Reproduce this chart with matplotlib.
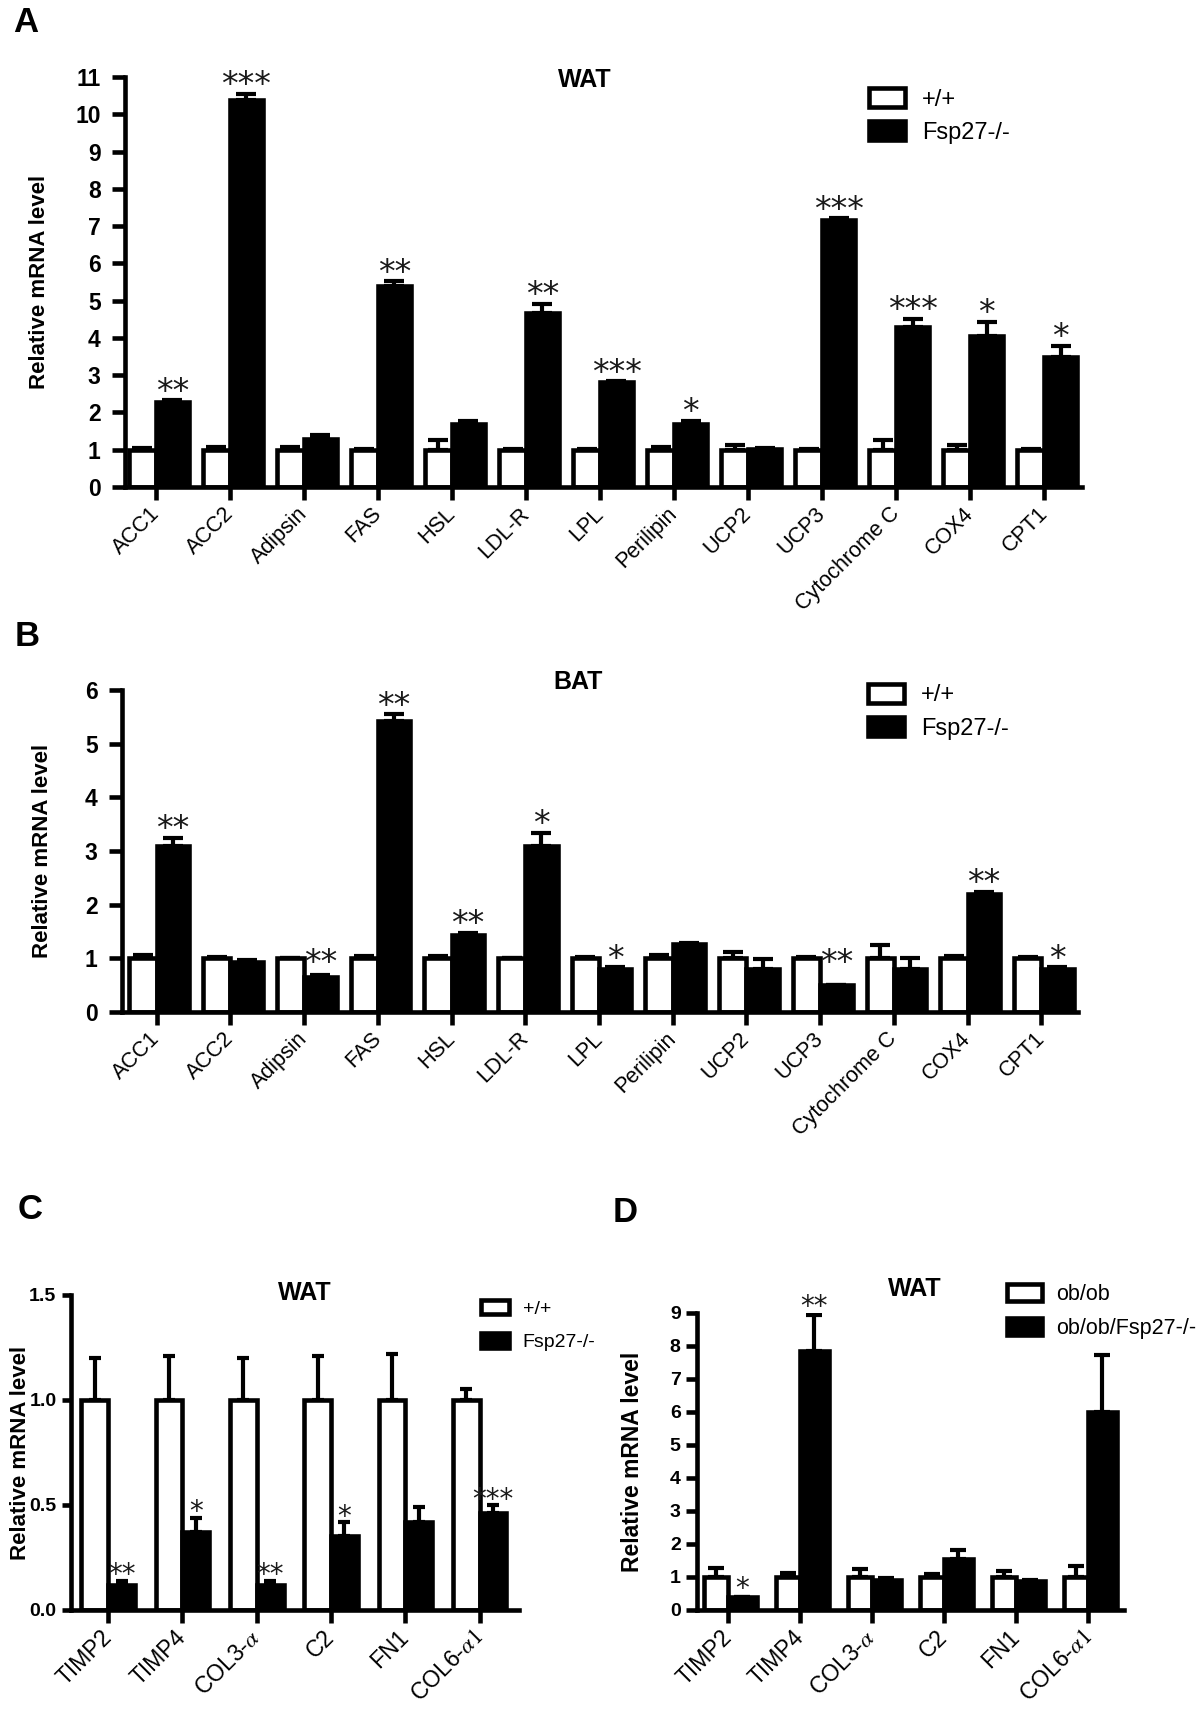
import numpy as np
import matplotlib
matplotlib.use("Agg")
import matplotlib.pyplot as plt
from matplotlib.patches import Patch

plt.rcParams['font.family'] = ['Liberation Sans', 'DejaVu Sans']
plt.rcParams['mathtext.fontset'] = 'stix'

NARROW = ['Liberation Sans Narrow', 'Liberation Sans', 'DejaVu Sans']

# --- data -------------------------------------------------------------
genes_ab = ["ACC1", "ACC2", "Adipsin", "FAS", "HSL", "LDL-R", "LPL",
            "Perilipin", "UCP2", "UCP3", "Cytochrome C", "COX4", "CPT1"]

# A : WAT, +/+ vs Fsp27-/-
wat_wt = [1.0, 1.0, 1.0, 1.0, 1.0, 1.0, 1.0, 1.0, 1.0, 1.0, 1.0, 1.0, 1.0]
wat_wt_err = [0.04, 0.06, 0.06, 0.02, 0.26, 0.01, 0.03, 0.06, 0.13, 0.02, 0.25, 0.14, 0.02]
wat_ko = [2.27, 10.37, 1.28, 5.39, 1.68, 4.68, 2.82, 1.70, 1.02, 7.16, 4.30, 4.06, 3.50]
wat_ko_err = [0.06, 0.17, 0.12, 0.13, 0.08, 0.23, 0.02, 0.08, 0.03, 0.05, 0.22, 0.37, 0.28]
wat_sig = ["**", "***", "", "**", "", "**", "***", "*", "", "***", "***", "*", "*"]

# B : BAT, +/+ vs Fsp27-/-
bat_wt = [1.0, 1.0, 1.0, 1.0, 1.0, 1.0, 1.0, 1.0, 1.0, 1.0, 1.0, 1.0, 1.0]
bat_wt_err = [0.06, 0.03, 0.0, 0.05, 0.05, 0.0, 0.03, 0.06, 0.12, 0.02, 0.25, 0.04, 0.02]
bat_ko = [3.10, 0.93, 0.66, 5.43, 1.44, 3.10, 0.81, 1.27, 0.80, 0.50, 0.80, 2.20, 0.81]
bat_ko_err = [0.14, 0.03, 0.02, 0.12, 0.04, 0.24, 0.02, 0.02, 0.18, 0.0, 0.21, 0.04, 0.02]
bat_sig = ["**", "", "**", "**", "**", "*", "*", "", "", "**", "", "**", "*"]

genes_cd = ["TIMP2", "TIMP4", r"COL3-$\alpha$", "C2", "FN1", r"COL6-$\alpha\mathit{1}$"]

# C : WAT, +/+ vs Fsp27-/-
ecm_wt = [1.0, 1.0, 1.0, 1.0, 1.0, 1.0]
ecm_wt_err = [0.20, 0.21, 0.20, 0.21, 0.22, 0.05]
ecm_ko = [0.12, 0.37, 0.12, 0.35, 0.42, 0.46]
ecm_ko_err = [0.02, 0.07, 0.02, 0.07, 0.07, 0.04]
ecm_sig = ["**", "*", "**", "*", "", "***"]

# D : WAT, ob/ob vs ob/ob/Fsp27-/-
ob_wt = [1.0, 1.0, 1.0, 1.0, 1.0, 1.0]
ob_wt_err = [0.27, 0.13, 0.25, 0.10, 0.18, 0.33]
ob_ko = [0.40, 7.85, 0.90, 1.55, 0.88, 6.00]
ob_ko_err = [0.0, 1.10, 0.07, 0.28, 0.03, 1.72]
ob_sig = ["*", "**", "", "", "", ""]

LW = 3.3
ELW = 3.0


def draw_panel(ax, genes, wt, wt_err, ko, ko_err, sig, ymax, yticks, ytlabels,
               wt_w, ko_w, xlim, capsize, tick_font, ytfs, xfs, star_fs, star_dy,
               ytick_len, ytick_pad, clear_wt=False):
    n = len(genes)
    x = np.arange(n)
    wt = np.array(wt); ko = np.array(ko)
    xw = x - wt_w / 2
    xk = x + ko_w / 2
    ax.errorbar(xw, wt, yerr=[np.zeros(n), wt_err], fmt='none', ecolor='black',
                elinewidth=ELW, capsize=capsize, capthick=ELW, zorder=1)
    ax.errorbar(xk, ko, yerr=[np.zeros(n), ko_err], fmt='none', ecolor='black',
                elinewidth=ELW, capsize=capsize, capthick=ELW, zorder=1)
    ax.bar(xw, wt, wt_w, color='white', edgecolor='black', linewidth=LW, zorder=2)
    ax.bar(xk, ko, ko_w, color='black', edgecolor='black', linewidth=LW, zorder=2)

    # significance stars above the knockout bars
    for i, s in enumerate(sig):
        if not s:
            continue
        y = ko[i] + ko_err[i]
        if clear_wt:
            y = max(y, wt[i] - 0.25)
        ax.annotate(s, (xk[i], y), xytext=(0, star_dy), textcoords='offset points',
                    ha='center', va='baseline', fontsize=star_fs,
                    family=['DejaVu Sans'], color='#1a1a1a')

    ax.set_xlim(*xlim)
    ax.set_ylim(0, ymax)
    ax.set_xticks(x)
    ax.set_xticklabels(genes, rotation=45, ha='right', va='center',
                       rotation_mode='anchor', fontsize=xfs)
    ax.set_yticks(yticks)
    ax.set_yticklabels(ytlabels, fontsize=ytfs, fontweight='bold', family=tick_font,
                       fontstretch='condensed')
    for side in ['top', 'right']:
        ax.spines[side].set_visible(False)
    for side in ['left', 'bottom']:
        ax.spines[side].set_linewidth(LW)
    ax.tick_params(axis='x', length=9, width=LW, pad=8)
    ax.tick_params(axis='y', length=ytick_len, width=LW, pad=ytick_pad)


fig = plt.figure(figsize=(12, 17.1), dpi=100)

# ---- A ----
axA = fig.add_axes([0.1042, 0.7152, 0.7975, 0.2398])
draw_panel(axA, genes_ab, wat_wt, wat_wt_err, wat_ko, wat_ko_err, wat_sig, 11,
           range(12), [str(v) for v in range(12)], 0.37, 0.44, (-0.42, 12.51), 7.2,
           ['Liberation Sans'], 16.5, 15.5, 24, -1, 9.5, 8)
axA.set_ylabel("Relative mRNA level", fontsize=16, fontweight='bold')
axA.yaxis.set_label_coords(-0.078, 0.5)
axA.text(0.48, 0.993, "WAT", transform=axA.transAxes, ha='center', va='center',
         fontsize=18, fontweight='bold')
hA = [Patch(facecolor='white', edgecolor='black', linewidth=LW, label='+/+'),
      Patch(facecolor='black', edgecolor='black', linewidth=LW, label='Fsp27-/-')]
axA.legend(handles=hA, loc='upper left', bbox_to_anchor=(0.777, 0.973), frameon=False,
           fontsize=17, handlelength=1.55, handleheight=0.85, handletextpad=0.7,
           labelspacing=0.45, borderpad=0, borderaxespad=0)

# ---- B ----
axB = fig.add_axes([0.1017, 0.4082, 0.7967, 0.1883])
draw_panel(axB, genes_ab, bat_wt, bat_wt_err, bat_ko, bat_ko_err, bat_sig, 6,
           range(7), [str(v) for v in range(7)], 0.37, 0.44, (-0.47, 12.5), 7.2,
           ['Liberation Sans'], 16.5, 15.5, 24, -1, 9.5, 8, clear_wt=True)
axB.set_ylabel("Relative mRNA level", fontsize=16, fontweight='bold')
axB.yaxis.set_label_coords(-0.072, 0.5)
axB.text(0.477, 1.025, "BAT", transform=axB.transAxes, ha='center', va='center',
         fontsize=18, fontweight='bold')
axB.legend(handles=hA, loc='upper left', bbox_to_anchor=(0.78, 1.019), frameon=False,
           fontsize=17, handlelength=1.55, handleheight=0.85, handletextpad=0.7,
           labelspacing=0.45, borderpad=0, borderaxespad=0)

# ---- C ----
axC = fig.add_axes([0.0592, 0.0585, 0.3733, 0.1842])
draw_panel(axC, genes_cd, ecm_wt, ecm_wt_err, ecm_ko, ecm_ko_err, ecm_sig, 1.5,
           [0, 0.5, 1.0, 1.5], ["0.0", "0.5", "1.0", "1.5"], 0.36, 0.36, (-0.5, 5.53), 4.2,
           NARROW, 14, 16.5, 20, -2, 6.5, 4)
axC.set_ylabel("Relative mRNA level", fontsize=16, fontweight='bold')
axC.yaxis.set_label_coords(-0.09, 0.5)
axC.text(0.522, 1.006, "WAT", transform=axC.transAxes, ha='center', va='center',
         fontsize=18, fontweight='bold')
axC.legend(handles=hA, loc='upper left', bbox_to_anchor=(0.915, 0.984), frameon=False,
           prop={'family': NARROW, 'size': 14, 'stretch': 'condensed'},
           handlelength=1.45, handleheight=0.75, handletextpad=0.7,
           labelspacing=0.8, borderpad=0, borderaxespad=0)

# ---- D ----
axD = fig.add_axes([0.5808, 0.0585, 0.3558, 0.1737])
draw_panel(axD, genes_cd, ob_wt, ob_wt_err, ob_ko, ob_ko_err, ob_sig, 9,
           range(10), [str(v) for v in range(10)], 0.33, 0.40, (-0.43, 5.5), 5.6,
           NARROW, 14, 16.5, 20, 0, 7.7, 4)
axD.set_ylabel("Relative mRNA level", fontsize=16.5, fontweight='bold')
axD.yaxis.set_label_coords(-0.125, 0.5)
axD.text(0.51, 1.08, "WAT", transform=axD.transAxes, ha='center', va='center',
         fontsize=18, fontweight='bold')
hD = [Patch(facecolor='white', edgecolor='black', linewidth=LW, label='ob/ob'),
      Patch(facecolor='black', edgecolor='black', linewidth=LW, label='ob/ob/Fsp27-/-')]
axD.legend(handles=hD, loc='upper left', bbox_to_anchor=(0.726, 1.099), frameon=False,
           fontsize=15.5, handlelength=1.65, handleheight=0.88, handletextpad=0.65,
           labelspacing=0.6, borderpad=0, borderaxespad=0)

# panel letters
for letter, (fx, fy) in zip("ABCD", [(0.0217, 0.9871), (0.0229, 0.6275),
                                     (0.0254, 0.2924), (0.5213, 0.2912)]):
    fig.text(fx, fy, letter, fontsize=25, fontweight='bold', ha='center', va='center')

fig.savefig("out.png", dpi=100)
